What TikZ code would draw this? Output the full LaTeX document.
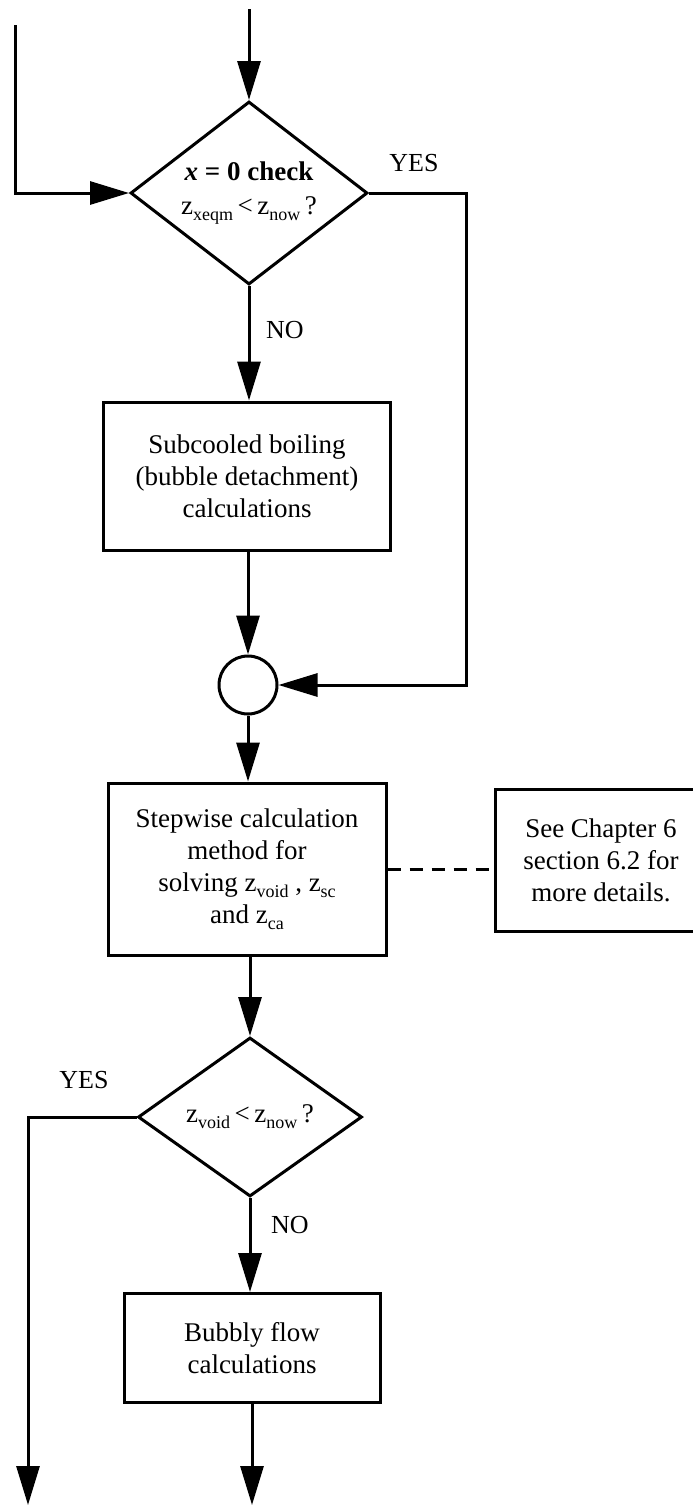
\documentclass[tikz,border=0pt]{standalone}
\usepackage{fontspec}
\setmainfont{Liberation Serif}
\usetikzlibrary{shapes.geometric,arrows.meta}
% z with a lowered subscript set in a smaller size
\newcommand\zsb[1]{z\raisebox{-6pt}{\fontsize{18}{18}\selectfont #1}}
\begin{document}
\begin{tikzpicture}[x=1pt,y=-1pt,
  every node/.style={font=\fontsize{27}{32}\selectfont},
  flow/.style={line width=3pt},
  arr/.style={flow,-{Triangle[length=39pt,width=23pt]}},
  procbox/.style={draw,line width=3pt,rectangle,align=center,inner sep=0pt},
  decision/.style={draw,line width=3pt,diamond,align=center,inner sep=0pt,aspect=1.3},
  junction/.style={draw,line width=3pt,circle,minimum size=58pt,inner sep=0pt},
  branch/.style={font=\fontsize{26}{30}\selectfont}
]
\useasboundingbox (0,0) rectangle (693,1508);
\clip (0,0) rectangle (693,1508);

% decisions, process boxes and the junction
\node[decision,minimum width=237pt,minimum height=183pt] (d1) at (249,193)
  {\textbf{\textit{x} = 0 check}\\[2pt]\zsb{xeqm}\,<\,\zsb{now}\,?};
\node[procbox,minimum width=287pt,minimum height=148pt] (box1) at (247,476)
  {Subcooled boiling\\(bubble detachment)\\calculations};
\node[junction] (c) at (248,685) {};
\node[procbox,minimum width=278pt,minimum height=172pt] (box2) at (247,869)
  {Stepwise calculation\\method for\\solving \zsb{void} , \zsb{sc}\\and \zsb{ca}};
% the note box runs past the right edge of the page
\node[procbox,minimum width=212pt,minimum height=142pt] (side) at (601,860)
  {See Chapter 6\\section 6.2 for\\more details.};
\node[decision,minimum width=224pt,minimum height=159pt] (d2) at (250,1117)
  {\zsb{void}\,<\,\zsb{now}\,?};
\node[procbox,minimum width=256pt,minimum height=109pt] (box3) at (252,1348)
  {Bubbly flow\\calculations};

% branch labels
\node[branch] (yes1) at (414,163) {YES};
\node[branch] (no1) at (285,330) {NO};
\node[branch] (yes2) at (84,1080) {YES};
\node[branch] (no2) at (290,1225) {NO};

% free ends of the connectors
\coordinate (top) at (249,9);
\coordinate (lin) at (15,25);
\coordinate (rt) at (466,193);
\coordinate (lout) at (28,1505);

% connectors
\draw[arr] (top) -- (d1.north);
\draw[arr] (lin) |- (d1.west);
\draw[arr] (d1.south) -- (box1.north -| d1.south);
\draw[arr] (d1.east) -- (rt) |- (c.east);
\draw[arr] (box1.south -| c.north) -- (c.north);
\draw[arr] (c.south) -- (box2.north -| c.south);
\draw[flow,dash pattern=on 13pt off 9pt] (box2.east) -- (box2.east -| side.west);
\draw[arr] (box2.south -| d2.north) -- (d2.north);
\draw[arr] (d2.west) -| (lout);
\draw[arr] (d2.south) -- (box3.north -| d2.south);
\draw[arr] (box3.south) -- (box3.south |- lout);
\end{tikzpicture}
\end{document}
